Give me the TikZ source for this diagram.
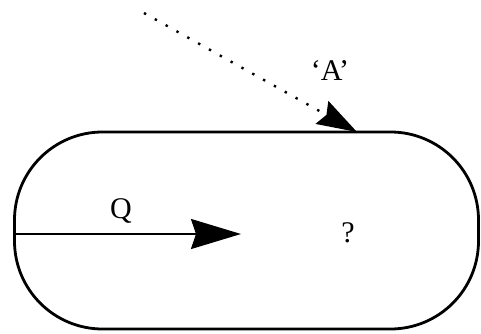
\documentclass[tikz,border=0pt]{standalone}
\usepackage{fontspec}
\setmainfont{Liberation Serif}
\usetikzlibrary{arrows.meta}
\begin{document}
\begin{tikzpicture}[x=1pt,y=1pt,
  stadium/.style={draw, line width=2.8pt, rounded corners=88pt, minimum width=464pt, minimum height=197pt, inner sep=0pt},
  lbl/.style={font=\fontsize{30}{33}\selectfont, inner sep=0pt},
  bigarrow/.style={line width=2pt, -{Stealth[length=50pt,width=30pt,inset=5pt]}},
  dotarrow/.style={line width=2.4pt, dash pattern=on 2.4pt off 10pt, -{Stealth[length=40pt,width=26pt,inset=5pt]}}]
\useasboundingbox (0,0) rectangle (481,333);
\node[stadium] (box) at (246.5,102.5) {};
\coordinate (qstart) at (14,99);
\coordinate (qend) at (241,99);
\draw[bigarrow] (qstart) -- (qend);
\node[lbl] (q) at (121,122) {Q};
\node[lbl] (qm) at (348,100) {?};
\coordinate (dstart) at (144,320);
\coordinate (dend) at (357,201);
\draw[dotarrow] (dstart) -- (dend);
\node[lbl] (a) at (330,262) {‘A’};
\end{tikzpicture}
\end{document}
